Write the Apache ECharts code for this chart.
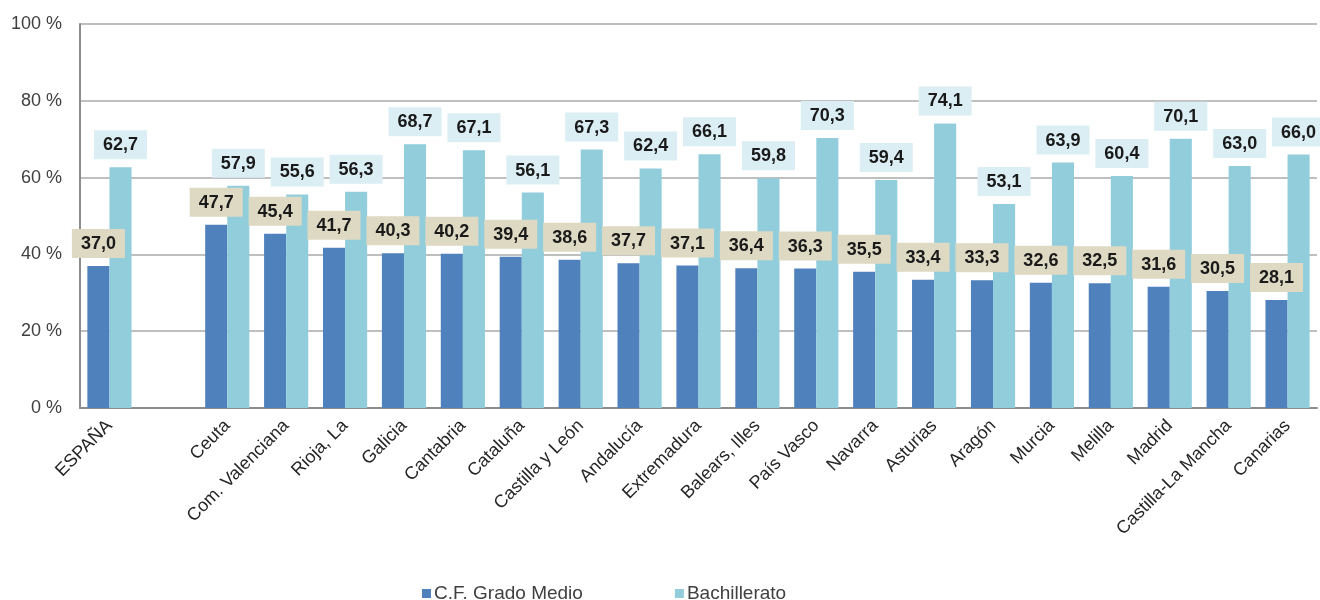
<!DOCTYPE html>
<html>
<head>
<meta charset="utf-8">
<script src="https://cdn.jsdelivr.net/npm/echarts@6/dist/echarts.min.js"></script>
<style>
html,body{margin:0;padding:0;background:#fff;}
#chart{width:1320px;height:600px;}
</style>
</head>
<body>
<div id="chart"></div>
<script>
const categories = ['ESPAÑA', '', 'Ceuta', 'Com. Valenciana', 'Rioja, La', 'Galicia', 'Cantabria', 'Cataluña', 'Castilla y León', 'Andalucía', 'Extremadura', 'Balears, Illes', 'País Vasco', 'Navarra', 'Asturias', 'Aragón', 'Murcia', 'Melilla', 'Madrid', 'Castilla-La Mancha', 'Canarias'];
const gradoMedio = [37.0, null, 47.7, 45.4, 41.7, 40.3, 40.2, 39.4, 38.6, 37.7, 37.1, 36.4, 36.3, 35.5, 33.4, 33.3, 32.6, 32.5, 31.6, 30.5, 28.1];
const bachillerato = [62.7, null, 57.9, 55.6, 56.3, 68.7, 67.1, 56.1, 67.3, 62.4, 66.1, 59.8, 70.3, 59.4, 74.1, 53.1, 63.9, 60.4, 70.1, 63.0, 66.0];
const yTicks = [0, 20, 40, 60, 80, 100];

const fmt = p => (p.value == null ? '' : Number(p.value).toFixed(1).replace('.', ','));
const labelBase = {
  show: true, position: 'top', distance: 8, formatter: fmt,
  fontFamily: 'Liberation Sans', fontWeight: 'bold', fontSize: 18, color: '#1a1a1a',
  padding: [6, 9, 5, 9]
};

const chart = echarts.init(document.getElementById('chart'));
chart.setOption({
  animation: false,
  textStyle: { fontFamily: 'Liberation Sans' },
  grid: { left: 80, right: 3, top: 24, bottom: 192, containLabel: false },
  legend: {
    left: 417, top: 579, itemWidth: 9, itemHeight: 9, itemGap: 92,
    icon: 'rect',
    textStyle: { fontSize: 19, color: '#404040', padding: [0, 0, 0, -2] },
    data: ['C.F. Grado Medio', 'Bachillerato']
  },
  xAxis: {
    type: 'category', data: categories,
    axisLine: { show: true, lineStyle: { color: '#8c8c8c', width: 2 } },
    axisTick: { show: false },
    axisLabel: { rotate: 45, interval: 0, fontSize: 18, color: '#262626', margin: 15 }
  },
  yAxis: {
    type: 'value', min: 0, max: 100, interval: 20,
    axisLine: { show: true, lineStyle: { color: '#8c8c8c', width: 2 } },
    axisTick: { show: false },
    splitLine: { lineStyle: { color: '#bfbfbf', width: 2 } },
    axisLabel: { fontSize: 18, color: '#404040', margin: 18, formatter: v => yTicks.includes(v) ? v + ' %' : '' }
  },
  series: [
    {
      name: 'C.F. Grado Medio', type: 'bar', data: gradoMedio,
      barGap: '0%', barCategoryGap: '25%',
      itemStyle: { color: '#4f81bd' },
      label: Object.assign({}, labelBase, { backgroundColor: '#ddd9c3' })
    },
    {
      name: 'Bachillerato', type: 'bar', data: bachillerato,
      itemStyle: { color: '#92cddc' },
      label: Object.assign({}, labelBase, { backgroundColor: '#dbeef4' })
    }
  ]
});
</script>
</body>
</html>
